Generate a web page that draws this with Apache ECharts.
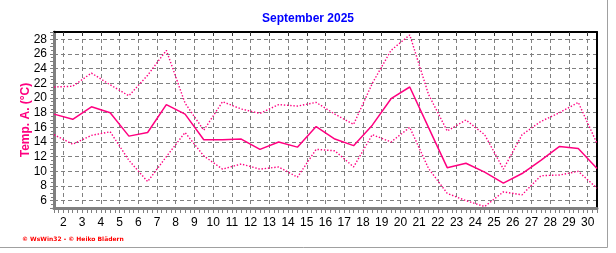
<!DOCTYPE html>
<html><head><meta charset="utf-8">
<script src="https://cdn.jsdelivr.net/npm/echarts@6/dist/echarts.min.js"></script>
<style>html,body{margin:0;padding:0;background:#fff}#c{width:616px;height:253px}</style>
</head><body><div id="c"></div>
<script>
const chartTitle = 'September 2025';
const yName = 'Temp. A. (°C)';
const footer = '\u00A9 WsWin32 - \u00A9 Heiko Blädern';
const days = [1,2,3,4,5,6,7,8,9,10,11,12,13,14,15,16,17,18,19,20,21,22,23,24,25,26,27,28,29,30];
const tMax  = [21.5,21.6,23.4,21.8,20.3,23.1,26.5,19.3,15.6,19.5,18.5,17.9,19.1,18.9,19.4,17.8,16.4,22.0,26.5,28.6,20.5,15.5,17.0,15.0,10.3,15.0,16.8,18.0,19.4,13.8];
const tMean = [17.8,17.1,18.8,18.0,14.8,15.3,19.1,17.8,14.3,14.3,14.4,13.0,14.0,13.3,16.1,14.4,13.5,16.3,19.9,21.5,16.0,10.5,11.1,9.9,8.4,9.7,11.5,13.4,13.1,10.4];
const tMin  = [15.0,13.7,14.9,15.4,11.5,8.6,12.0,15.3,12.1,10.3,11.0,10.3,10.6,9.2,13.0,12.8,10.6,15.0,14.0,16.0,10.4,7.0,6.0,5.2,7.2,6.8,9.4,9.5,10.0,7.7];
const yTickLabels = [6,8,10,12,14,16,18,20,22,24,26,28];
const xTickLabels = [2,3,4,5,6,7,8,9,10,11,12,13,14,15,16,17,18,19,20,21,22,23,24,25,26,27,28,29,30];

const PINK = '#ff0080';
const GRID = '#808080';
const FONT = 'Liberation Sans, Arial, sans-serif';
const xHalf = xTickLabels.map(d => d - 0.5);

const chart = echarts.init(document.getElementById('c'), null, {renderer: 'canvas'});
const pairs = arr => days.map((d, i) => [d, arr[i]]);

chart.setOption({
  animation: false,
  backgroundColor: '#fff',
  title: {
    text: chartTitle, left: 'center', top: 13, padding: 0,
    textStyle: {color: '#0000ff', fontSize: 12, fontWeight: 'bold', fontFamily: FONT}
  },
  grid: {left: 54, right: 19, top: 32, bottom: 45, show: false, outerBoundsMode: 'none'},
  xAxis: [{
    type: 'value', min: 1, max: 30, interval: 0.5, position: 'bottom',
    axisLine: {show: true, onZero: false, lineStyle: {color: GRID, width: 3}},
    axisTick: {show: true, length: 5, lineStyle: {color: GRID, width: 1}},
    minorTick: {show: true, splitNumber: 2, length: 5, lineStyle: {color: GRID, width: 1}},
    axisLabel: {
      color: '#000', fontSize: 12, fontFamily: FONT, margin: 9,
      formatter: v => xHalf.indexOf(v) >= 0 ? String(v + 0.5) : ''
    },
    splitLine: {show: true, lineStyle: {color: ['rgba(0,0,0,0)', GRID], type: [4, 3], width: 1}}
  }, {
    type: 'value', min: 1, max: 30, position: 'top',
    axisLine: {show: true, onZero: false, lineStyle: {color: '#000', width: 2}},
    axisTick: {show: true, inside: true, length: 4, customValues: xHalf, lineStyle: {color: '#333', width: 1}},
    axisLabel: {show: false},
    splitLine: {show: false}
  }],
  yAxis: [{
    type: 'value', min: 5, max: 29, interval: 1, position: 'left',
    name: yName, nameLocation: 'middle', nameGap: 22, nameMoveOverlap: false,
    nameTextStyle: {color: PINK, fontSize: 12, fontWeight: 'bold', fontFamily: FONT},
    axisLine: {show: true, onZero: false, lineStyle: {color: GRID, width: 3}},
    axisTick: {show: true, length: 4, lineStyle: {color: GRID, width: 1}},
    minorTick: {show: true, splitNumber: 2, length: 3, lineStyle: {color: GRID, width: 1}},
    axisLabel: {
      color: '#000', fontSize: 12, fontFamily: FONT, margin: 7,
      formatter: v => yTickLabels.indexOf(v) >= 0 ? String(v) : ''
    },
    splitLine: {show: true, lineStyle: {color: ['rgba(0,0,0,0)', GRID], type: [4, 3], width: 1}}
  }, {
    type: 'value', min: 5, max: 29, position: 'right',
    axisLine: {show: true, onZero: false, lineStyle: {color: '#000', width: 2}},
    axisTick: {show: false}, axisLabel: {show: false}, splitLine: {show: false}
  }],
  series: [
    {type: 'line', name: 'max', data: pairs(tMax), symbol: 'none', z: 3,
     lineStyle: {color: PINK, width: 1.4, type: [1.4, 1.8]}},
    {type: 'line', name: 'mean', data: pairs(tMean), symbol: 'none', z: 4,
     lineStyle: {color: PINK, width: 1.5, type: 'solid'}},
    {type: 'line', name: 'min', data: pairs(tMin), symbol: 'none', z: 3,
     lineStyle: {color: PINK, width: 1.4, type: [1.4, 1.8]}}
  ],
  graphic: [
    {type: 'text', left: 22, top: 236,
     style: {text: footer, fill: '#ff0000', font: 'bold 6px "DejaVu Sans", sans-serif'}},
    {type: 'line', shape: {x1: 607.5, y1: 0, x2: 607.5, y2: 247.5}, style: {stroke: '#a0a0a0', lineWidth: 1}},
    {type: 'line', shape: {x1: 0, y1: 247.5, x2: 607.5, y2: 247.5}, style: {stroke: '#a0a0a0', lineWidth: 1}}
  ]
});
</script></body></html>
